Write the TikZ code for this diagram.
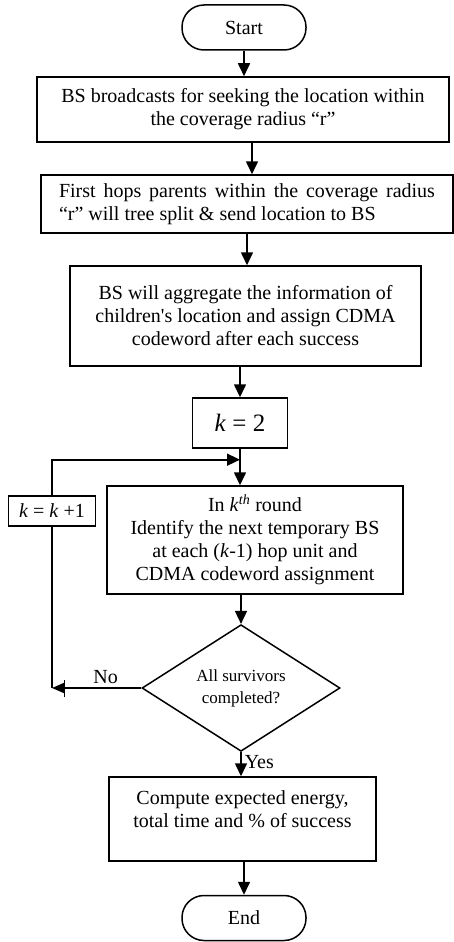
\documentclass[tikz,border=0pt]{standalone}
\usepackage{fontspec}
\setmainfont{Liberation Serif}
\usetikzlibrary{shapes.geometric,arrows.meta,calc}

\begin{document}
\begin{tikzpicture}[x=1pt,y=-1pt,font=\fontsize{20}{23}\selectfont,
    box/.style={draw,line width=1.5pt,align=center,inner sep=0pt},
    term/.style={draw,line width=1.5pt,rounded corners=22pt,minimum width=124pt,minimum height=45pt},
    arr/.style={line width=1.6pt,-{Triangle[length=13pt,width=12pt]}},
    arrbar/.style={line width=1.6pt,-{Bar[width=17pt,line width=1.4pt,sep=0pt]Triangle[length=12pt,width=10pt]}},
    line/.style={line width=1.6pt}]
  \useasboundingbox (0,0) rectangle (454,942);
  \node[term] (start) at (244,27.5) {Start};
  \node[box,minimum width=412pt,minimum height=65pt] (bcast) at (243,109.5) {BS broadcasts for seeking the location within\\the coverage radius ``r''};
  \node[box,minimum width=412pt,minimum height=58pt,text width=376pt,align=justify] (hops) at (247,204) {First hops parents within the coverage radius\linebreak ``r'' will tree split \& send location to BS};
  \node[box,minimum width=351pt,minimum height=100pt] (aggr) at (245.5,316) {BS will aggregate the information of\\children\textquotesingle s location and assign CDMA\\codeword after each success};
  \node[box,minimum width=95pt,minimum height=50pt,font=\fontsize{25}{28}\selectfont] (kinit) at (240,423) {\textit{k} = 2};
  \node[box,minimum width=296pt,minimum height=108pt] (round) at (255,540) {In \textit{k}\textsuperscript{\textit{th}} round\\Identify the next temporary BS\\at each (\textit{k}-1) hop unit and\\CDMA codeword assignment};
  \node[box,minimum width=87pt,minimum height=30pt] (kinc) at (52,511) {\textit{k} = \textit{k} +1};
  \node[draw,diamond,line width=1.5pt,minimum width=198pt,minimum height=112pt,inner sep=0pt,align=center,font=\fontsize{17}{22}\selectfont] (done) at (241,688) {All survivors\\completed?};
  \node[box,minimum width=267pt,minimum height=84pt] (comp) at (242.5,819) {\parbox[c][56pt][t]{260pt}{\centering Compute expected energy,\\total time and \% of success}};
  \node[term] (end) at (244,918) {End};

  \draw[arr] (start.south) -- (start.south |- bcast.north);
  \draw[arr] ([xshift=9pt]bcast.south) -- ([xshift=9pt]bcast.south |- hops.north);
  \draw[arr] (hops.south) -- (hops.south |- aggr.north);
  \draw[arr] (aggr.south -| kinit) -- (kinit.north);
  \draw[arr] (kinit.south) -- (kinit.south |- round.north);
  \draw[arr] (round.south -| done) -- (done.north);
  \draw[arr] (done.south) -- node[right,pos=0.4,inner sep=3pt] {Yes} (done.south |- comp.north);
  \draw[arr] (comp.south -| end) -- (end.north);

  \coordinate (merge) at ($(kinit.south)!0.3!(kinit.south |- round.north)$);
  \draw[arr] (kinc.north) |- (merge);
  \draw[line] (kinc.south) -- (kinc.south |- done.west);
  \draw[arrbar] (done.west) -- node[above,pos=0.4] {No} (kinc.south |- done.west);
\end{tikzpicture}
\end{document}
